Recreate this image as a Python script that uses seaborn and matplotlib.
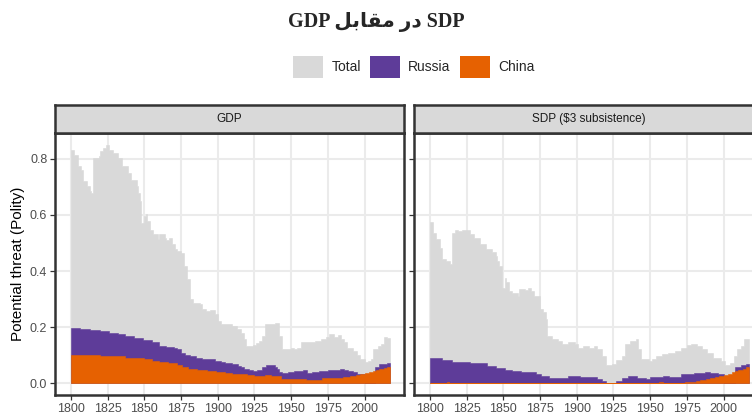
import numpy as np
import pandas as pd
import matplotlib
matplotlib.use("Agg")
import matplotlib.pyplot as plt
import seaborn as sns
from matplotlib.patches import Patch

# ---- data (year, value) ----
gdp_total_years = [1800, 1802, 1805, 1807, 1808, 1811, 1813, 1814, 1815, 1819, 1820, 1822, 1824, 1826,
                   1829, 1832, 1835, 1839, 1841, 1845, 1846, 1847, 1848, 1850, 1851, 1852, 1854, 1856,
                   1859, 1860, 1864, 1865, 1867, 1869, 1871, 1872, 1875, 1877, 1879, 1881, 1883, 1888,
                   1889, 1892, 1895, 1898, 1900, 1902, 1907, 1910, 1913, 1916, 1918, 1919, 1924, 1926,
                   1928, 1930, 1932, 1936, 1939, 1942, 1944, 1948, 1950, 1952, 1954, 1957, 1961, 1966,
                   1970, 1974, 1976, 1979, 1982, 1984, 1986, 1988, 1992, 1995, 1997, 2000, 2002, 2004,
                   2006, 2009, 2011, 2013, 2015]
gdp_total = [0.831, 0.815, 0.774, 0.762, 0.720, 0.703, 0.685, 0.680, 0.804, 0.810, 0.827, 0.839, 0.848,
             0.833, 0.822, 0.804, 0.774, 0.750, 0.726, 0.703, 0.679, 0.649, 0.572, 0.596, 0.605, 0.580,
             0.548, 0.531, 0.513, 0.531, 0.519, 0.510, 0.519, 0.495, 0.480, 0.471, 0.465, 0.418, 0.370,
             0.299, 0.285, 0.281, 0.264, 0.258, 0.260, 0.246, 0.222, 0.210, 0.212, 0.204, 0.192, 0.180,
             0.157, 0.133, 0.135, 0.142, 0.151, 0.168, 0.212, 0.210, 0.216, 0.168, 0.121, 0.121, 0.127,
             0.121, 0.127, 0.145, 0.147, 0.151, 0.159, 0.166, 0.174, 0.166, 0.171, 0.157, 0.145, 0.127,
             0.115, 0.100, 0.085, 0.074, 0.080, 0.085, 0.121, 0.133, 0.139, 0.166, 0.160]

gdp_russia_years = [1800, 1806, 1813, 1820, 1826, 1832, 1837, 1843, 1849, 1855, 1860, 1865, 1870, 1872,
                    1875, 1878, 1881, 1885, 1889, 1893, 1898, 1902, 1905, 1910, 1914, 1916, 1918, 1921,
                    1924, 1927, 1930, 1933, 1936, 1939, 1940, 1942, 1944, 1948, 1952, 1956, 1958, 1961,
                    1964, 1969, 1975, 1979, 1983, 1986, 1989, 1992, 1995, 1998, 2000, 2007, 2010, 2015]
gdp_russia = [0.198, 0.194, 0.190, 0.186, 0.180, 0.175, 0.168, 0.162, 0.154, 0.145, 0.133, 0.130, 0.125,
              0.121, 0.109, 0.100, 0.095, 0.090, 0.085, 0.085, 0.079, 0.075, 0.071, 0.068, 0.062, 0.058,
              0.050, 0.046, 0.044, 0.048, 0.056, 0.064, 0.064, 0.056, 0.050, 0.038, 0.036, 0.040, 0.042,
              0.042, 0.047, 0.036, 0.038, 0.044, 0.046, 0.048, 0.052, 0.047, 0.044, 0.038, 0.034, 0.032,
              0.000, 0.059, 0.068, 0.071]

gdp_china_years = [1800, 1820, 1830, 1837, 1845, 1850, 1855, 1860, 1866, 1872, 1876, 1880, 1886, 1893,
                   1899, 1905, 1910, 1916, 1920, 1925, 1932, 1936, 1939, 1943, 1960, 1966, 1971, 1978,
                   1985, 1990, 1994, 1997, 2000, 2003, 2006, 2008, 2010, 2013, 2015]
gdp_china = [0.100, 0.098, 0.095, 0.091, 0.088, 0.085, 0.080, 0.076, 0.070, 0.064, 0.058, 0.052, 0.048,
             0.044, 0.040, 0.036, 0.034, 0.032, 0.029, 0.026, 0.029, 0.027, 0.024, 0.014, 0.011, 0.011,
             0.017, 0.018, 0.023, 0.025, 0.028, 0.032, 0.036, 0.039, 0.044, 0.048, 0.052, 0.055, 0.056]

sdp_total_years = [1800, 1802, 1804, 1807, 1808, 1811, 1814, 1815, 1817, 1819, 1822, 1824, 1827, 1830,
                   1834, 1838, 1842, 1845, 1846, 1847, 1849, 1851, 1852, 1854, 1856, 1860, 1861, 1865,
                   1867, 1869, 1871, 1875, 1877, 1879, 1880, 1883, 1887, 1890, 1894, 1899, 1901, 1904,
                   1908, 1912, 1914, 1917, 1920, 1924, 1927, 1931, 1933, 1936, 1940, 1942, 1944, 1949,
                   1951, 1954, 1958, 1962, 1967, 1971, 1975, 1978, 1982, 1985, 1989, 1993, 1998, 2001,
                   2004, 2007, 2009, 2012, 2014]
sdp_total = [0.574, 0.537, 0.513, 0.483, 0.444, 0.436, 0.424, 0.537, 0.548, 0.543, 0.545, 0.548, 0.531,
             0.519, 0.495, 0.477, 0.468, 0.454, 0.436, 0.418, 0.341, 0.376, 0.360, 0.329, 0.323, 0.311,
             0.335, 0.333, 0.341, 0.329, 0.311, 0.264, 0.252, 0.228, 0.168, 0.157, 0.151, 0.139, 0.148,
             0.139, 0.127, 0.133, 0.127, 0.133, 0.121, 0.097, 0.064, 0.068, 0.083, 0.095, 0.139, 0.151,
             0.159, 0.121, 0.085, 0.079, 0.085, 0.097, 0.103, 0.109, 0.115, 0.127, 0.135, 0.139, 0.133,
             0.121, 0.109, 0.091, 0.079, 0.064, 0.071, 0.097, 0.121, 0.133, 0.157]

sdp_russia_years = [1800, 1808, 1815, 1827, 1839, 1845, 1851, 1856, 1862, 1870, 1872, 1876, 1881, 1890,
                    1894, 1902, 1910, 1914, 1917, 1920, 1924, 1927, 1931, 1935, 1938, 1941, 1947, 1950,
                    1959, 1963, 1971, 1980, 1987, 1991, 1996, 2000, 2008, 2012, 2015]
sdp_russia = [0.088, 0.081, 0.074, 0.072, 0.062, 0.055, 0.047, 0.044, 0.040, 0.040, 0.032, 0.025, 0.017,
              0.017, 0.024, 0.022, 0.020, 0.016, 0.008, 0.000, 0.002, 0.008, 0.017, 0.024, 0.026, 0.017,
              0.014, 0.020, 0.026, 0.020, 0.032, 0.036, 0.040, 0.036, 0.032, 0.000, 0.056, 0.064, 0.068]

sdp_china_years = [1800, 1812, 1813, 1956, 1959, 1970, 1974, 1977, 1981, 1984, 1988, 1991, 1994, 1997,
                   2000, 2003, 2006, 2008, 2010, 2013, 2015]
sdp_china = [0.000, 0.004, 0.000, 0.003, 0.000, 0.002, 0.004, 0.005, 0.009, 0.012, 0.015, 0.017, 0.021,
             0.024, 0.029, 0.034, 0.040, 0.044, 0.047, 0.052, 0.056]

panel_titles = ["GDP", "SDP (\\$3 subsistence)"]
series_names = ["Total", "Russia", "China"]
series_colors = ["#D9D9D9", "#5E3C99", "#E66101"]
x_breaks = [1800, 1825, 1850, 1875, 1900, 1925, 1950, 1975, 2000]
y_breaks = [0.0, 0.2, 0.4, 0.6, 0.8]
END_YEAR = 2017

title_text = "SDP در مقابل GDP"

# ---- tiny arabic shaper (matplotlib draws glyphs left to right, unshaped) ----
FORMS = {
    "ا": ("\uFE8D", "\uFE8E", None, None),
    "ب": ("\uFE8F", "\uFE90", "\uFE91", "\uFE92"),
    "د": ("\uFEA9", "\uFEAA", None, None),
    "ر": ("\uFEAD", "\uFEAE", None, None),
    "ق": ("\uFED5", "\uFED6", "\uFED7", "\uFED8"),
    "ل": ("\uFEDD", "\uFEDE", "\uFEDF", "\uFEE0"),
    "م": ("\uFEE1", "\uFEE2", "\uFEE3", "\uFEE4"),
}


def shape_word(w):
    out = []
    for i, ch in enumerate(w):
        f = FORMS[ch]
        prev_joins = i > 0 and FORMS[w[i - 1]][2] is not None
        next_joins = i < len(w) - 1 and f[2] is not None
        if prev_joins and next_joins:
            out.append(f[3])
        elif prev_joins:
            out.append(f[1])
        elif next_joins:
            out.append(f[2])
        else:
            out.append(f[0])
    return "".join(reversed(out))


def rtl_visual(text):
    words = text.split(" ")[::-1]
    return " ".join(shape_word(w) if w[0] in FORMS else w for w in words)


sns.set_theme(style="white")
narrow = ["Liberation Sans Narrow", "Liberation Sans", "DejaVu Sans"]
plt.rcParams["font.family"] = narrow

W, H = 752, 417
fig = plt.figure(figsize=(W / 100, H / 100), dpi=100)


def px_box(left, top, right, bottom):
    return [left / W, 1 - bottom / H, (right - left) / W, (bottom - top) / H]


panels = [
    (55, [(gdp_total_years, gdp_total), (gdp_russia_years, gdp_russia), (gdp_china_years, gdp_china)]),
    (414, [(sdp_total_years, sdp_total), (sdp_russia_years, sdp_russia), (sdp_china_years, sdp_china)]),
]
border = "#333333"

for k, (left, data) in enumerate(panels):
    ax = fig.add_axes(px_box(left, 133, left + 349, 395))
    for (yrs, vals), col in zip(data, series_colors):
        xs = np.array(list(yrs) + [END_YEAR])
        ys = np.array(list(vals) + [vals[-1]])
        ax.fill_between(xs, 0, ys, step="post", facecolor=col, edgecolor=col, linewidth=0.4)
    ax.set_xlim(1789.2, 2026.8)
    ax.set_ylim(-0.0425, 0.8925)
    ax.set_xticks(x_breaks)
    ax.set_yticks(y_breaks)
    ax.grid(True, color="#EBEBEB", linewidth=1.5)
    ax.set_axisbelow(True)
    for s in ax.spines.values():
        s.set_color(border)
        s.set_linewidth(1.8)
    ax.tick_params(axis="both", which="major", length=3.5, width=0.9, color=border,
                   labelsize=9, labelcolor="#4D4D4D", pad=2, bottom=True, left=True)
    if k == 0:
        ax.set_yticklabels([f"{v:.1f}" for v in y_breaks])
        ax.set_ylabel("Potential threat (Polity)", fontsize=11, color="black",
                      family=["Liberation Sans", "DejaVu Sans"])
        ax.yaxis.set_label_coords(-0.085, 0.5)
    else:
        ax.set_yticklabels([])
    ax.set_xlabel("")

    strip = fig.add_axes(px_box(left, 105, left + 349, 133))
    strip.set_facecolor("#D9D9D9")
    strip.set_xticks([])
    strip.set_yticks([])
    for s in strip.spines.values():
        s.set_color(border)
        s.set_linewidth(1.8)
    strip.text(0.5, 0.5, panel_titles[k], ha="center", va="center", fontsize=8.5, color="#1A1A1A",
               transform=strip.transAxes)

handles = [Patch(facecolor=c, edgecolor="none", label=n) for n, c in zip(series_names, series_colors)]
fig.legend(handles=handles, loc="center", bbox_to_anchor=(414 / W, 1 - 67 / H), ncol=3, frameon=False,
           fontsize=10, handlelength=2.1, handleheight=2.1, handletextpad=0.62, columnspacing=0.7,
           borderpad=0)

fig.text(376 / W, 1 - 22 / H, rtl_visual(title_text), ha="center", va="center", fontsize=14.5,
         fontweight="bold", family=["Liberation Serif", "DejaVu Sans"])

fig.savefig("out.png", dpi=100)
